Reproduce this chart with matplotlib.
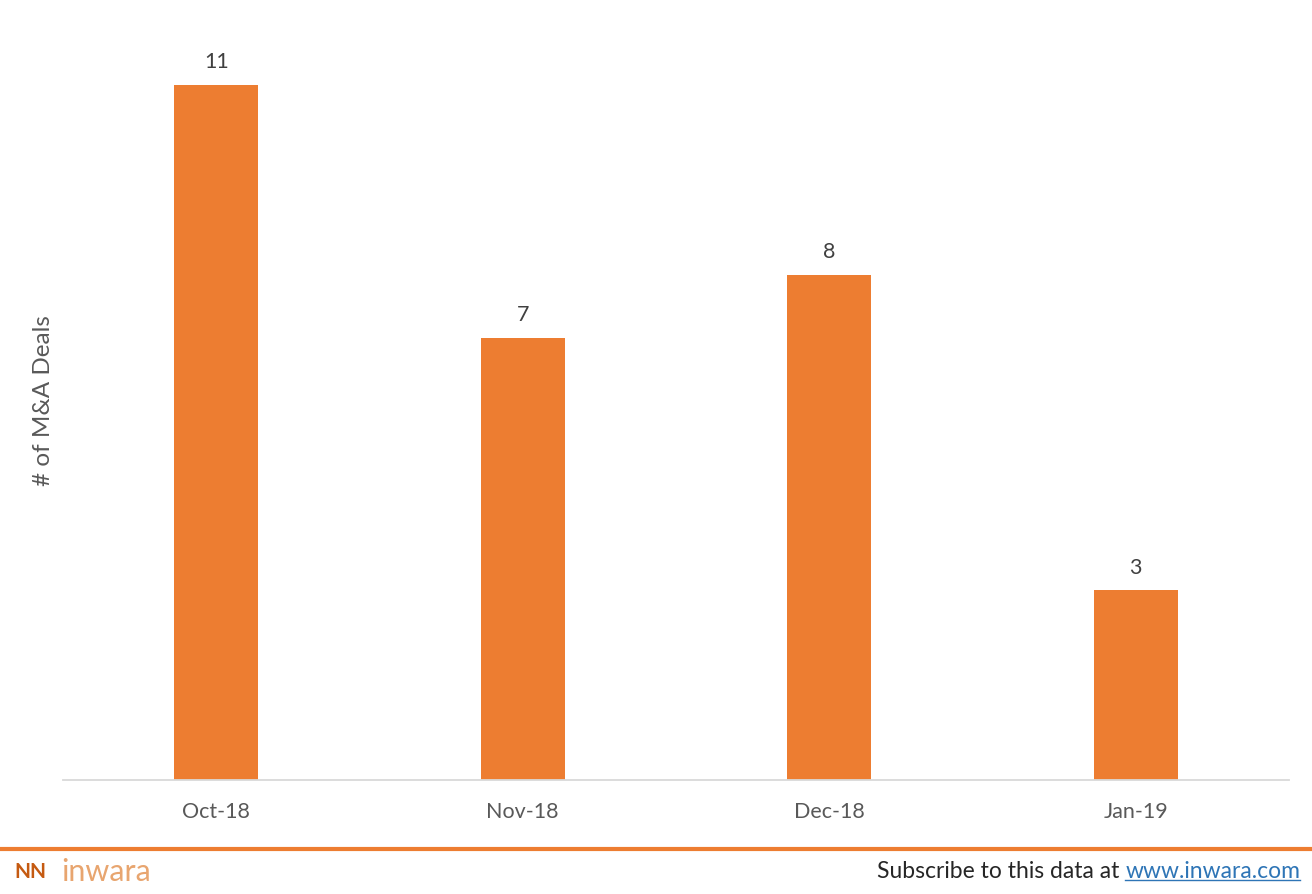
import numpy as np
import matplotlib.pyplot as plt

months = ['Oct-18', 'Nov-18', 'Dec-18', 'Jan-19']
deals = [11, 7, 8, 3]

ORANGE = '#ED7D31'
plt.rcParams['font.family'] = ['Lato', 'DejaVu Sans']

fig = plt.figure(figsize=(13.12, 8.94), dpi=100)
ax = fig.add_axes([0.048, 0.1275, 0.9345, 0.848])

x = np.arange(len(months))
bars = ax.bar(x, deals, width=0.275, color=ORANGE)
for b, v in zip(bars, deals):
    ax.text(b.get_x() + b.get_width() / 2, v + 0.2, str(v), ha='center', va='bottom',
            fontsize=15.5, color='#404040')

ax.set_xlim(-0.5, 3.5)
ax.set_ylim(0, 12.0)
ax.set_xticks(x)
ax.set_xticklabels(months, fontsize=15.5, color='#595959')
ax.tick_params(axis='x', length=0, pad=16)
ax.set_yticks([])
for s in ['top', 'right', 'left']:
    ax.spines[s].set_visible(False)
ax.spines['bottom'].set_color('#d9d9d9')
ax.spines['bottom'].set_linewidth(1.3)
ax.set_ylabel('# of M&A Deals', fontsize=17.5, color='#595959')
ax.yaxis.set_label_coords(-0.007, 0.5)

# footer
fig.add_artist(plt.Line2D([0, 1], [1 - 849 / 894] * 2, color=ORANGE, lw=3))
fig.text(0.011, 1 - 872 / 894, 'NN', fontsize=15, fontweight='bold', color='#C55A11', va='center')
fig.text(0.047, 1 - 872 / 894, 'inwara', fontsize=22, color='#E8A56F', va='center')

url = fig.text(0.991, 1 - 871 / 894, 'www.inwara.com', fontsize=16.5, color='#2E75B6',
               ha='right', va='center')
fig.canvas.draw()
bb = url.get_window_extent().transformed(fig.transFigure.inverted())
fig.text(bb.x0, 1 - 871 / 894, 'Subscribe to this data at ', fontsize=16.5, color='#262626',
         ha='right', va='center')
fig.add_artist(plt.Line2D([bb.x0, bb.x1], [bb.y0 + 0.002] * 2, color='#2E75B6', lw=1))

fig.savefig('out.png', dpi=100)
